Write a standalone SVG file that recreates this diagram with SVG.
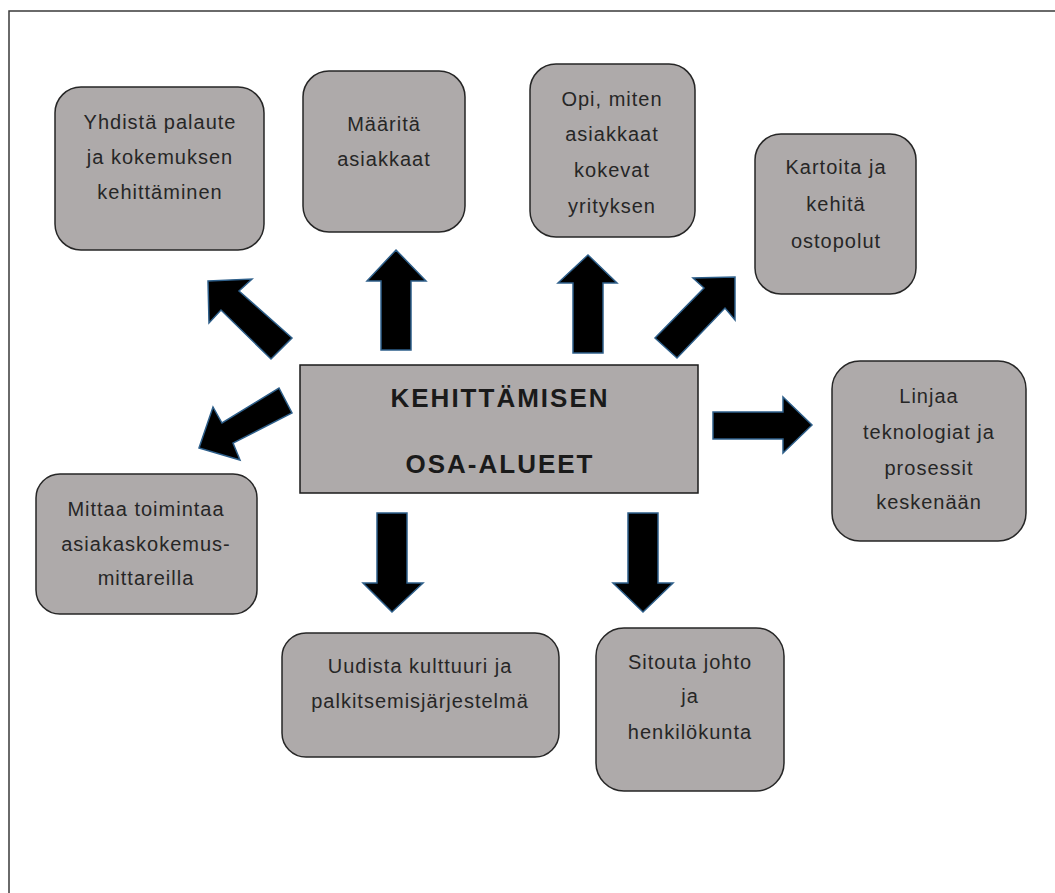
<svg xmlns="http://www.w3.org/2000/svg" width="1055" height="893" viewBox="0 0 1055 893">
<defs>
<style>
.frame{fill:none;stroke:#3a3a3a;stroke-width:1.5}
.box{fill:#aeaaaa;stroke:#262626;stroke-width:1.5}
.t{font-family:"Liberation Sans",Arial,sans-serif;font-size:20px;fill:#262626;text-anchor:middle;letter-spacing:1px}
.ct{font-family:"Liberation Sans",Arial,sans-serif;font-size:26px;font-weight:bold;fill:#1a1a1a;text-anchor:middle;letter-spacing:2px}
.arr{fill:#000;stroke:#2e5f8a;stroke-width:1.5;stroke-linejoin:miter}
</style>
</defs>
<rect width="1055" height="893" fill="#fff"/>
<path class="frame" d="M9,893 V11 H1055"/>

<g id="connectors">
<polygon class="arr" points="396,250 426,281 411,281 411,350 381,350 381,281 367,281"/>
<polygon class="arr" points="588,255 617,283 603,283 603,353 573,353 573,283 558,283"/>
<polygon class="arr" points="812,425 783,453 783,439 713,439 713,412 783,412 783,397"/>
<polygon class="arr" points="735,277 735,320 725,308 677,358 655,338 704,288 693,278"/>
<polygon class="arr" points="208,281 252,279 239,291 292,338 271,359 221,310 209,323"/>
<polygon class="arr" points="199,448 213,407 222,423 279,388 292,413 233,443 240,460"/>
<polygon class="arr" points="392,612 423,583 407,583 407,513 377,513 377,583 363,583"/>
<polygon class="arr" points="643,612 673,583 658,583 658,513 628,513 628,583 613,583"/>
</g>

<g id="center">
<rect x="300" y="365" width="398" height="128" fill="#aeaaaa" stroke="#1a1a1a" stroke-width="1.5"/>
<text class="ct" x="500" y="407">KEHITTÄMISEN</text>
<text class="ct" x="500" y="473">OSA-ALUEET</text>
</g>

<g id="n1">
<rect class="box" x="55" y="87" width="209" height="163" rx="26"/>
<text class="t" x="160" y="129">Yhdistä palaute</text>
<text class="t" x="160" y="164">ja kokemuksen</text>
<text class="t" x="160" y="199">kehittäminen</text>
</g>

<g id="n2">
<rect class="box" x="303" y="71" width="162" height="161" rx="26"/>
<text class="t" x="384" y="131">Määritä</text>
<text class="t" x="384" y="166">asiakkaat</text>
</g>

<g id="n3">
<rect class="box" x="530" y="64" width="165" height="173" rx="26"/>
<text class="t" x="612" y="106">Opi, miten</text>
<text class="t" x="612" y="141">asiakkaat</text>
<text class="t" x="612" y="177">kokevat</text>
<text class="t" x="612" y="213">yrityksen</text>
</g>

<g id="n4">
<rect class="box" x="755" y="134" width="161" height="160" rx="26"/>
<text class="t" x="836" y="174">Kartoita ja</text>
<text class="t" x="836" y="211">kehitä</text>
<text class="t" x="836" y="248">ostopolut</text>
</g>

<g id="n5">
<rect class="box" x="832" y="361" width="194" height="180" rx="28"/>
<text class="t" x="929" y="403">Linjaa</text>
<text class="t" x="929" y="439">teknologiat ja</text>
<text class="t" x="929" y="475">prosessit</text>
<text class="t" x="929" y="509">keskenään</text>
</g>

<g id="n6">
<rect class="box" x="36" y="474" width="221" height="140" rx="24"/>
<text class="t" x="146" y="516">Mittaa toimintaa</text>
<text class="t" x="146" y="551">asiakaskokemus-</text>
<text class="t" x="146" y="585">mittareilla</text>
</g>

<g id="n7">
<rect class="box" x="282" y="633" width="277" height="124" rx="24"/>
<text class="t" x="420" y="673">Uudista kulttuuri ja</text>
<text class="t" x="420" y="708">palkitsemisjärjestelmä</text>
</g>

<g id="n8">
<rect class="box" x="596" y="628" width="188" height="163" rx="28"/>
<text class="t" x="690" y="669">Sitouta johto</text>
<text class="t" x="690" y="703">ja</text>
<text class="t" x="690" y="739">henkilökunta</text>
</g>
</svg>
